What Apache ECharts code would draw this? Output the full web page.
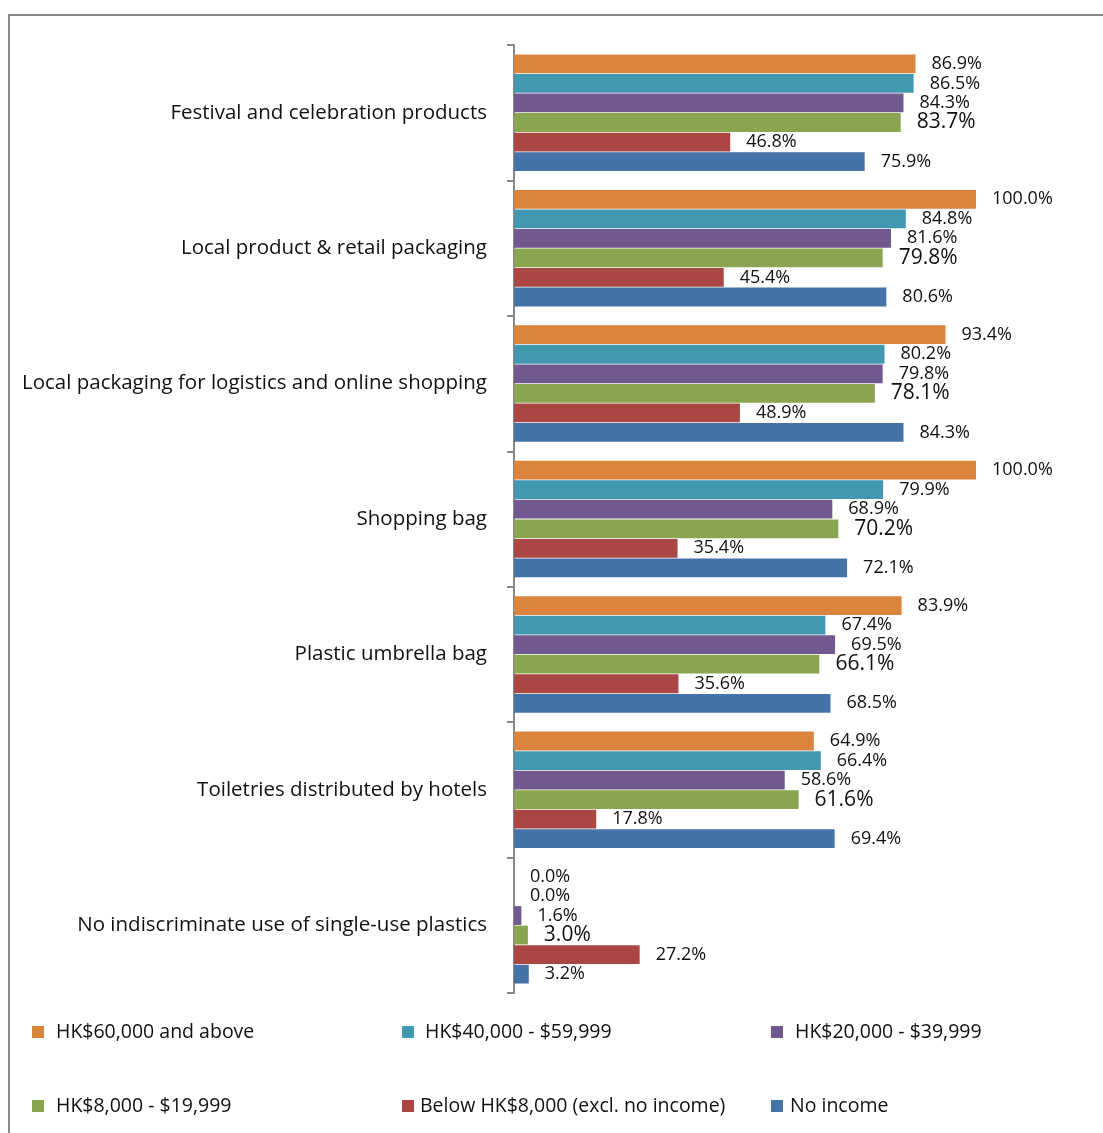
<!DOCTYPE html>
<html>
<head>
<meta charset="utf-8">
<title>Single-use plastics by household income</title>
<script src="https://cdn.jsdelivr.net/npm/echarts@6/dist/echarts.min.js"></script>
<style>
  html, body { margin: 0; padding: 0; background: #fff; }
  #chart { width: 1103px; height: 1133px; }
</style>
</head>
<body>
<div id="chart"></div>
<script>
// Categories, listed top to bottom
const categories = [
  'Festival and celebration products',
  'Local product & retail packaging',
  'Local packaging for logistics and online shopping',
  'Shopping bag',
  'Plastic umbrella bag',
  'Toiletries distributed by hotels',
  'No indiscriminate use of single-use plastics'
];

// Income groups (series order within each category, top to bottom)
const seriesNames = [
  'HK$60,000 and above',
  'HK$40,000 - $59,999',
  'HK$20,000 - $39,999',
  'HK$8,000 - $19,999',
  'Below HK$8,000 (excl. no income)',
  'No income'
];

// Percentages per income group, one value per category
const income60kPlus   = [86.9, 100.0, 93.4, 100.0, 83.9, 64.9, 0.0];
const income40to60k   = [86.5, 84.8, 80.2, 79.9, 67.4, 66.4, 0.0];
const income20to40k   = [84.3, 81.6, 79.8, 68.9, 69.5, 58.6, 1.6];
const income8to20k    = [83.7, 79.8, 78.1, 70.2, 66.1, 61.6, 3.0];
const incomeBelow8k   = [46.8, 45.4, 48.9, 35.4, 35.6, 17.8, 27.2];
const noIncome        = [75.9, 80.6, 84.3, 72.1, 68.5, 69.4, 3.2];

const seriesData = [income60kPlus, income40to60k, income20to40k, income8to20k, incomeBelow8k, noIncome];
const colors = ['#DB843D', '#4198AF', '#71588F', '#89A54E', '#AA4643', '#4572A7'];
const labelSizes = [18, 18, 18, 21, 18, 18];

const FONT = '"Open Sans", "Noto Sans", sans-serif';

const chart = echarts.init(document.getElementById('chart'), null, { renderer: 'canvas' });

// Legend laid out as a 3 x 2 grid
const legendPos = [
  { left: 32, top: 1022 }, { left: 402, top: 1022 }, { left: 771, top: 1022 },
  { left: 32, top: 1096 }, { left: 402, top: 1096 }, { left: 771, top: 1096 }
];
const legendGaps = [12, 11, 12, 12, 6, 7];

const option = {
  backgroundColor: '#ffffff',
  animation: false,
  graphic: [{
    type: 'rect',
    shape: { x: 9, y: 15, width: 1200, height: 1200 },
    style: { fill: 'none', stroke: '#898989', lineWidth: 2 },
    silent: true
  }],
  legend: seriesNames.map((name, i) => ({
    data: [name],
    left: legendPos[i].left,
    top: legendPos[i].top,
    padding: 0,
    itemWidth: 12,
    itemHeight: 12,
    itemGap: 0,
    icon: 'rect',
    textStyle: { fontFamily: FONT, fontSize: 19.5, color: '#111', padding: [0, 0, 0, legendGaps[i] - 5] },
    selectedMode: false
  })),
  grid: { left: 514, right: 127, top: 45, bottom: 140, containLabel: false },
  xAxis: {
    type: 'value',
    min: 0,
    max: 100,
    show: false
  },
  yAxis: {
    type: 'category',
    data: categories,
    inverse: true,
    axisLine: { show: true, lineStyle: { color: '#878787', width: 2 } },
    axisTick: { show: true, length: 7, lineStyle: { color: '#878787', width: 2 } },
    axisLabel: {
      fontFamily: FONT,
      fontSize: 20.5,
      color: '#111',
      margin: 27
    }
  },
  series: seriesNames.map((name, i) => ({
    name: name,
    type: 'bar',
    data: seriesData[i],
    barCategoryGap: '14%',
    barGap: '4%',
    itemStyle: { color: colors[i] },
    label: {
      show: true,
      position: 'right',
      distance: 16,
      fontFamily: FONT,
      fontSize: labelSizes[i],
      color: '#111',
      formatter: p => p.value.toFixed(1) + '%'
    }
  }))
};

chart.setOption(option);
</script>
</body>
</html>
